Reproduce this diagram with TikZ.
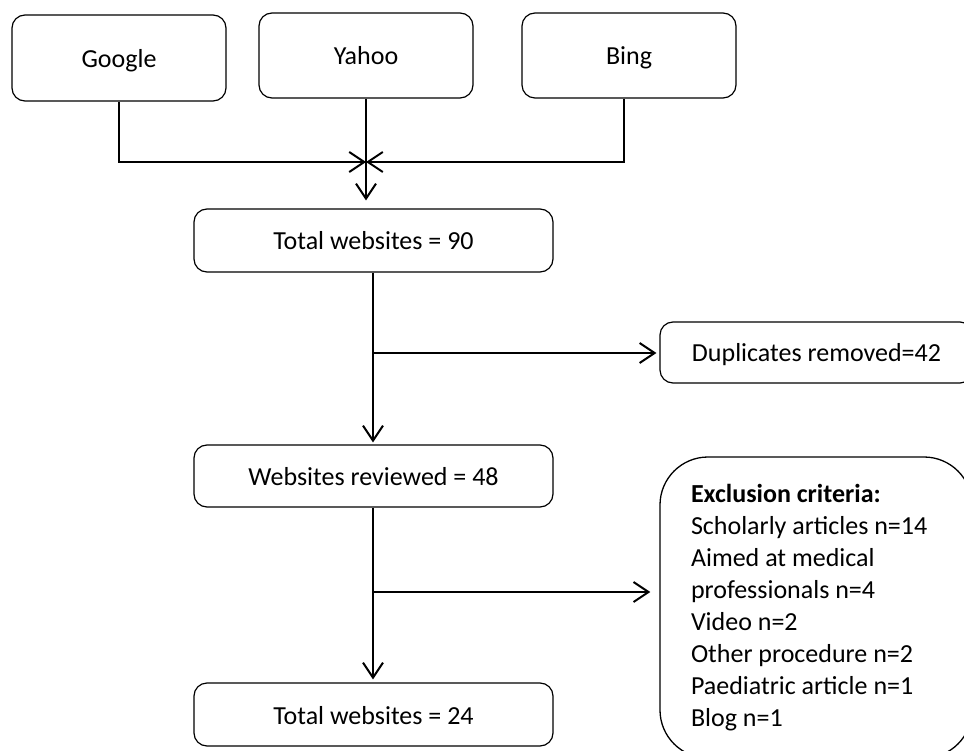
\documentclass[tikz,border=0pt]{standalone}
\usepackage{fontspec}
\setmainfont{Carlito}
\usetikzlibrary{arrows.meta}
\tikzset{
  box/.style={draw=black, line width=1.2pt, rounded corners=13pt, inner sep=0pt,
    font=\fontsize{26}{32}\selectfont, text height=22pt, text depth=3pt},
  bigbox/.style={draw=black, line width=1.3pt, rounded corners=48pt, inner sep=0pt,
    font=\fontsize{26}{32}\selectfont, align=flush left, text width=250pt},
  conn/.style={line width=2pt, draw=black},
  arr/.style={conn, -{Straight Barb[length=15pt,width=20pt]}},
}
\begin{document}
\begin{tikzpicture}[x=1pt,y=-1pt]
\useasboundingbox (0,0) rectangle (964,751);
\node[box, minimum width=214pt, minimum height=86pt] (google) at (119,58) {Google};
\node[box, minimum width=214pt, minimum height=85pt] (yahoo) at (366,55.5) {Yahoo};
\node[box, minimum width=214pt, minimum height=85pt] (bing) at (629,55.5) {Bing};
\node[box, minimum width=359pt, minimum height=63pt] (total) at (373.5,240.5) {Total websites = 90};
\node[box, minimum width=359pt, minimum height=62pt] (reviewed) at (373.5,476) {Websites reviewed = 48};
\node[box, minimum width=359pt, minimum height=63pt] (final) at (373.5,714.5) {Total websites = 24};
\node[box, minimum width=313pt, minimum height=61pt] (dup) at (816.5,352.5) {Duplicates removed=42};
\node[bigbox, minimum width=312pt, minimum height=301pt] (excl) at (816,607.5)
  {\textbf{Exclusion criteria:}\\Scholarly articles n=14\\Aimed at medical\\professionals n=4\\Video n=2\\Other procedure n=2\\Paediatric article n=1\\Blog n=1};
\coordinate (j) at (366,162);
\coordinate (b1) at (373,353);
\coordinate (b2) at (373,592);
% top merge
\draw[arr] (google.south) |- (j);
\draw[arr] ([xshift=-5pt]bing.south) |- (j);
\draw[arr, shorten >=8pt] (yahoo.south) -- (yahoo.south |- total.north);
% main flow
\draw[arr, shorten >=2pt] ([xshift=-0.5pt]total.south) -- ([xshift=-0.5pt]reviewed.north);
\draw[arr, shorten >=3pt] ([xshift=-0.5pt]reviewed.south) -- ([xshift=-0.5pt]final.north);
% side branches
\draw[arr, shorten >=3pt] (b1) -- (b1 -| dup.west);
\draw[arr, shorten >=9pt] (b2) -- (b2 -| excl.west);
\end{tikzpicture}
\end{document}
